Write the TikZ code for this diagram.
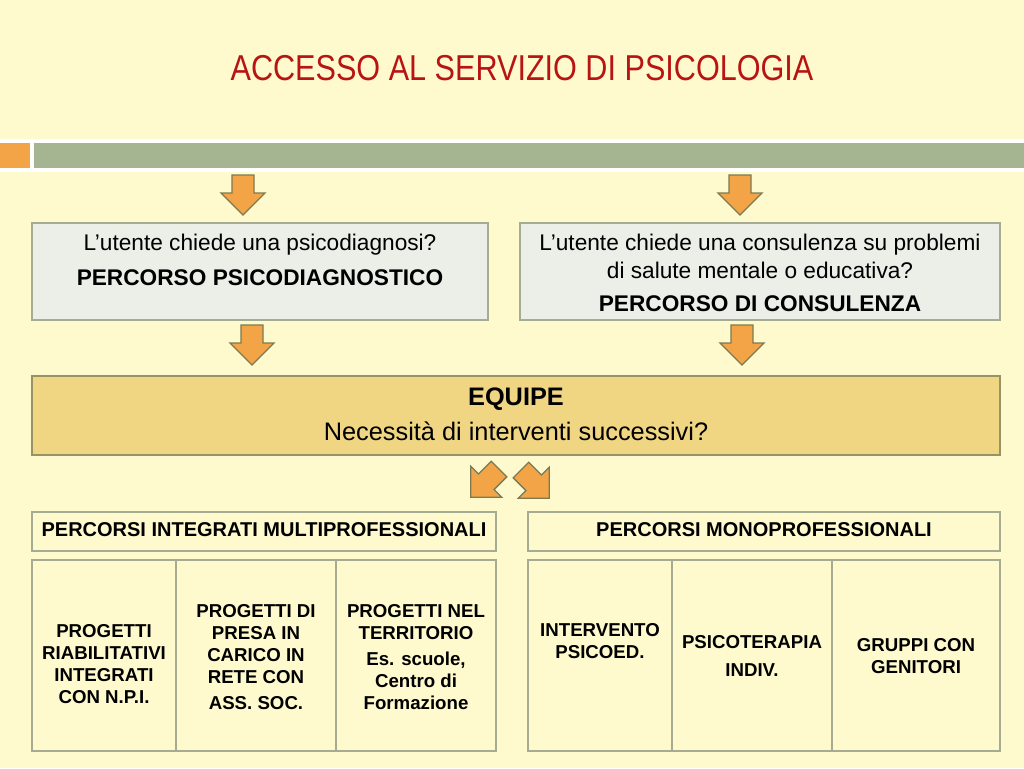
\documentclass[tikz,border=0pt]{standalone}
\usepackage{fontspec}
\setmainfont{Liberation Sans}
\newfontfamily\narrowfont[FakeStretch=0.85]{Liberation Sans}

\definecolor{sfondo}{RGB}{254,250,205}
\definecolor{titolo}{RGB}{185,20,20}
\definecolor{banda}{RGB}{165,181,146}
\definecolor{arancio}{RGB}{243,164,71}
\definecolor{bordofreccia}{RGB}{125,122,82}
\definecolor{grigiobox}{RGB}{236,238,232}
\definecolor{bordobox}{RGB}{165,172,145}
\definecolor{equipe}{RGB}{240,214,130}
\definecolor{bordoequipe}{RGB}{150,148,100}

\tikzset{
  freccia/.pic={
    \draw[draw=bordofreccia, fill=arancio, line width=1pt, line join=miter]
      (-11,0) -- (11,0) -- (11,18) -- (22,18) -- (0,40) -- (-22,18) -- (-11,18) -- cycle;
  },
  domanda/.style={draw=bordobox, fill=grigiobox, line width=0.8pt},
  cella/.style={draw=bordobox, line width=0.8pt},
  testo/.style={align=center, font=\fontsize{17}{21}\selectfont},
  voce/.style={align=center, font=\fontsize{14}{16.5}\selectfont\bfseries},
  intesta/.style={font=\fontsize{15}{18}\selectfont\bfseries}
}

\begin{document}
\begin{tikzpicture}[x=0.75pt, y=-0.75pt]
  % sfondo e banda
  \fill[sfondo] (0,0) rectangle (1024,768);
  \useasboundingbox (0,0) rectangle (1024,768);
  \node[text=titolo, font=\fontsize{27}{32}\narrowfont] (title) at (522,68) {ACCESSO AL SERVIZIO DI PSICOLOGIA};
  \fill[white] (0,139) rectangle (1024,172);
  \fill[arancio] (0,143) rectangle (30,168);
  \fill[banda] (34,143) rectangle (1024,168);

  % prime frecce
  \pic at (243,175) {freccia};
  \pic at (740,175) {freccia};

  % domande
  \draw[domanda] (32,223) rectangle (488,320);
  \draw[domanda] (520,223) rectangle (1000,320);
  \node[testo] (q1) at (260,260) {L'utente chiede una psicodiagnosi?\\[5pt]\textbf{PERCORSO PSICODIAGNOSTICO}};
  \node[testo] (q2) at (760,273) {L'utente chiede una consulenza su problemi\\di salute mentale o educativa?\\[4pt]\textbf{PERCORSO DI CONSULENZA}};

  % seconde frecce
  \pic at (252,325) {freccia};
  \pic at (742,325) {freccia};

  % equipe
  \draw[fill=equipe, draw=bordoequipe, line width=0.8pt] (32,376) rectangle (1000,455);
  \node[align=center, font=\fontsize{19}{26}\selectfont] (eq) at (516,414) {\textbf{EQUIPE}\\Necessità di interventi successivi?};

  % frecce oblique
  \pic[rotate=-45] at (499,469) {freccia};
  \pic[rotate=45] at (521,470) {freccia};

  % percorsi
  \draw[cella] (32,512) rectangle (496,551);
  \draw[cella] (528,512) rectangle (1000,551);
  \node[intesta] (pm) at (264,530) {PERCORSI INTEGRATI MULTIPROFESSIONALI};
  \node[intesta] (pp) at (764,530) {PERCORSI MONOPROFESSIONALI};

  \draw[cella] (32,560) rectangle (496,751);
  \draw[cella] (176,560) -- (176,751);
  \draw[cella] (336,560) -- (336,751);
  \draw[cella] (528,560) rectangle (1000,751);
  \draw[cella] (672,560) -- (672,751);
  \draw[cella] (832,560) -- (832,751);

  \node[voce] (c1) at (104,664) {PROGETTI\\RIABILITATIVI\\INTEGRATI\\CON N.P.I.};
  \node[voce] (c2) at (256,657) {PROGETTI DI\\PRESA IN\\CARICO IN\\RETE CON\\[3pt]ASS. SOC.};
  \node[voce] (c3) at (416,657) {PROGETTI NEL\\TERRITORIO\\[3pt]Es. scuole,\\Centro di\\Formazione};
  \node[voce] (c4) at (600,641) {INTERVENTO\\PSICOED.};
  \node[voce] (c5) at (752,656) {PSICOTERAPIA\\[5pt]INDIV.};
  \node[voce] (c6) at (916,656) {GRUPPI CON\\GENITORI};
\end{tikzpicture}
\end{document}
